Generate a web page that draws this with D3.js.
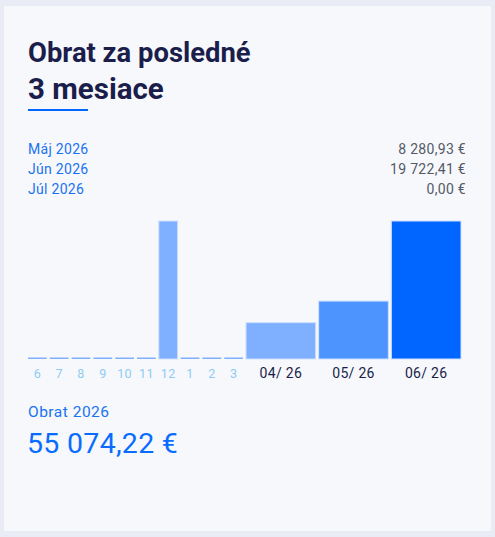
<!DOCTYPE html>
<html>
<head>
<meta charset="utf-8">
<script src="https://cdn.jsdelivr.net/npm/d3@7"></script>
<style>
  html, body { margin: 0; padding: 0; background: #e9ecf4; }
  body { font-family: Roboto, "Noto Sans", sans-serif; }
</style>
</head>
<body>
<div id="chart"></div>
<script>
// summary rows
var monthNames = ["Máj 2026", "Jún 2026", "Júl 2026"];
var monthTotals = ["8 280,93 €", "19 722,41 €", "0,00 €"];

// bars
var barLabels = ["6", "7", "8", "9", "10", "11", "12", "1", "2", "3", "04/ 26", "05/ 26", "06/ 26"];
var barValues = [0, 0, 0, 0, 0, 0, 19722, 0, 0, 0, 5200, 8280.93, 19722.41];
var barWide = [false, false, false, false, false, false, false, false, false, false, true, true, true];

var yearLabel = "Obrat 2026";
var yearTotal = "55 074,22 €";

var W = 495, H = 537;

var svg = d3.select("#chart")
  .append("svg")
    .attr("width", W)
    .attr("height", H);

// card
svg.append("rect")
  .attr("x", 4).attr("y", 6)
  .attr("width", 487).attr("height", 525)
  .attr("fill", "#f6f8fc");

// title
var title = svg.append("text")
  .attr("x", 28)
  .attr("fill", "#1b1e4b")
  .style("font-size", "27.4px")
  .style("font-weight", 700);
title.append("tspan").attr("x", 28).attr("y", 62).text("Obrat za posledné");
title.append("tspan").attr("x", 28).attr("y", 99)
  .style("font-size", "29.5px")
  .text("3 mesiace");

svg.append("rect")
  .attr("x", 28).attr("y", 109)
  .attr("width", 60).attr("height", 2)
  .attr("fill", "#0066ff");

// month rows
var rows = svg.append("g");
monthNames.forEach(function(m, i) {
  rows.append("text")
    .attr("x", 28).attr("y", 154 + i * 20)
    .attr("fill", "#1a73f0")
    .style("font-size", "14px")
    .style("letter-spacing", "0.3px")
    .text(m);
  rows.append("text")
    .attr("x", 466).attr("y", 154 + i * 20)
    .attr("text-anchor", "end")
    .attr("fill", "#555a66")
    .style("font-size", "14px")
    .style("letter-spacing", "0.3px")
    .text(monthTotals[i]);
});

// x positions: narrow slot weight 1, wide slot weight 10/3
var weights = barWide.map(function(w) { return w ? 10 / 3 : 1; });
var starts = [0];
weights.forEach(function(w, i) { starts.push(starts[i] + w); });

var x = d3.scaleLinear()
  .domain([0, starts[starts.length - 1]])
  .range([28, 464]);

var y = d3.scaleLinear()
  .domain([0, d3.max(barValues)])
  .range([359, 221]);

var colors = ["#7fb0ff", "#7fb0ff", "#4d94ff", "#0066ff"];
function barColor(i) {
  if (!barWide[i]) return "#7fb0ff";
  return colors[i - 9];
}

var bars = svg.append("g");
bars.selectAll("rect")
  .data(barValues)
  .enter()
  .append("rect")
    .attr("x", function(d, i) { return x(starts[i]); })
    .attr("width", function(d, i) { return x(starts[i + 1]) - x(starts[i]) - 3; })
    .attr("y", function(d) { return Math.min(y(d), 357.5); })
    .attr("height", function(d) { return Math.max(y(0) - y(d), 1.5); })
    .attr("fill", function(d, i) { return barColor(i); })
    .attr("stroke", function(d) { return d > 0 ? "#cfe0ff" : "none"; })
    .attr("stroke-width", 1);

// tick labels
svg.append("g").selectAll("text")
  .data(barLabels)
  .enter()
  .append("text")
    .attr("x", function(d, i) { return (x(starts[i]) + x(starts[i + 1]) - 3) / 2; })
    .attr("y", 378)
    .attr("text-anchor", "middle")
    .attr("fill", function(d, i) { return barWide[i] ? "#1b1e4b" : "#8ecbf2"; })
    .style("font-size", function(d, i) { return barWide[i] ? "14px" : "12.5px"; })
    .style("letter-spacing", "0.3px")
    .text(function(d) { return d; });

// yearly total
svg.append("text")
  .attr("x", 28).attr("y", 417)
  .attr("fill", "#1a73f0")
  .style("font-size", "15.5px")
  .style("letter-spacing", "0.5px")
  .text(yearLabel);

svg.append("text")
  .attr("x", 27).attr("y", 453)
  .attr("fill", "#0a6cff")
  .style("font-size", "28.5px")
  .style("letter-spacing", "0.3px")
  .text(yearTotal);
</script>
</body>
</html>
